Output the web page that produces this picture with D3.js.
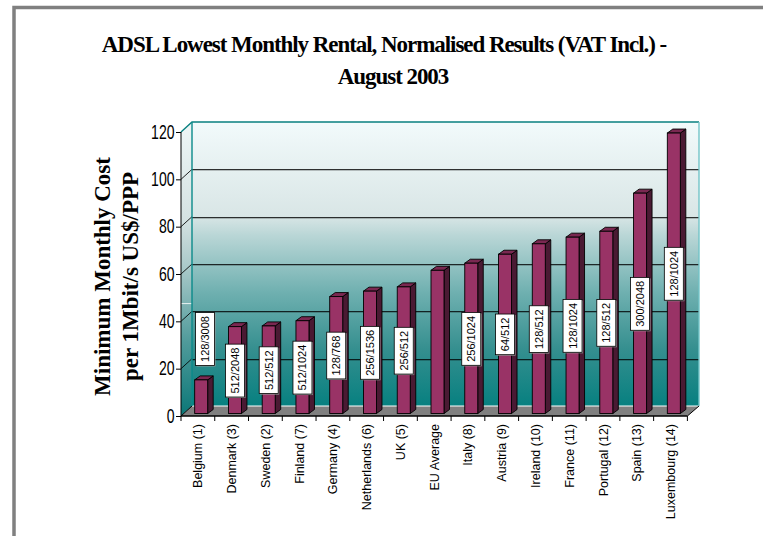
<!DOCTYPE html>
<html><head><meta charset="utf-8">
<script src="https://cdn.jsdelivr.net/npm/d3@7"></script>
<style>html,body{margin:0;padding:0;background:#fff;overflow:hidden}svg{display:block}</style>
</head><body><svg id="c" width="763" height="536"></svg>
<script>
const titleLines = ["ADSL Lowest Monthly Rental, Normalised Results (VAT Incl.) -", "August 2003"];
const yTitleLines = ["Minimum Monthly Cost", "per 1Mbit/s US$/PPP"];
const categories = ["Belgium (1)","Denmark (3)","Sweden (2)","Finland (7)","Germany (4)","Netherlands (6)","UK (5)","EU Average","Italy (8)","Austria (9)","Ireland (10)","France (11)","Portugal (12)","Spain (13)","Luxembourg (14)"];
const values = [14.2,36.7,37,39.2,49.4,51.7,53.5,60.5,63.5,67.3,71.7,74.5,77,93.1,118.5];
const speeds = ["128/3008","512/2048","512/512","512/1024","128/768","256/1536","256/512","","256/1024","64/512","128/512","128/1024","128/512","300/2048","128/1024"];
const yTicks = [0,20,40,60,80,100,120];

const svg = d3.select("#c");
const SANS = "'Liberation Sans', Arial, sans-serif", SERIF = "'Liberation Serif', 'Times New Roman', serif";
const depthX = 11, depthY = 10, barDX = 5.5, barDY = 4, barW = 13;
const y = d3.scaleLinear().domain([0,120]).range([416,132]);
const x = d3.scaleBand().domain(categories).range([181,687.4]).paddingInner(0).paddingOuter(0);
const barY = v => y(v) - 2.5;

const defs = svg.append("defs");
function grad(id, stops){
  const g = defs.append("linearGradient").attr("id",id).attr("x1",0).attr("x2",0).attr("y1",0).attr("y2",1);
  stops.forEach(([o,c])=>g.append("stop").attr("offset",o).attr("stop-color",c));
}
grad("wall",[[0,"#f2fafb"],[.33,"#d9e6e6"],[.4,"#b9d6d6"],[.6,"#6fb0b0"],[.8,"#358f8f"],[1,"#078080"]]);
grad("side",[[0,"#eef6f6"],[.33,"#d5e2e2"],[.5,"#a8c8c8"],[.75,"#4f9a9a"],[1,"#0b7777"]]);

// page frame
svg.append("path").attr("d","M14,536V7.5H763").attr("fill","none").attr("stroke","#808080").attr("stroke-width",3.5);

// title
svg.append("g").selectAll("text").data(titleLines).join("text")
  .attr("x",(d,i)=>i?393:384).attr("y",(d,i)=>52+i*32).attr("text-anchor","middle")
  .attr("font-family",SERIF).attr("font-weight","bold").attr("font-size",23).attr("letter-spacing",-1.05)
  .text(d=>d);
// y title
svg.append("g").selectAll("text").data(yTitleLines).join("text")
  .attr("transform",(d,i)=>`translate(${110+i*28},276.5) rotate(-90)`).attr("text-anchor","middle")
  .attr("font-family",SERIF).attr("font-weight","bold").attr("font-size",23)
  .text(d=>d);

const x0 = x.range()[0], x1 = x.range()[1];
const backL = x0+depthX, backR = x1+depthX+0.6, wallTop = y(120)-depthY, wallBot = y(0)-depthY;

// back wall + side wall + floor
svg.append("rect").attr("x",backL).attr("y",wallTop).attr("width",backR-backL).attr("height",wallBot-wallTop).attr("fill","url(#wall)");
svg.append("path").attr("d",`M${x0},${y(120)}L${backL},${wallTop}V${wallBot}L${x0},${y(0)}Z`).attr("fill","url(#side)");
svg.append("path").attr("d",`M${x0},${y(0)}L${backL},${wallBot}H${backR}L${x1},${y(0)}Z`).attr("fill","#808080");
svg.append("line").attr("x1",backL).attr("x2",backR).attr("y1",wallBot).attr("y2",wallBot).attr("stroke","#fff").attr("stroke-width",1);
svg.append("line").attr("x1",x0).attr("x2",backL).attr("y1",y(47.5)).attr("y2",y(47.5)).attr("stroke","#e8f2f2").attr("stroke-width",1);

// gridlines
const grid = svg.append("g");
yTicks.filter(t=>t>0&&t<120).forEach(t=>{
  const yy = Math.round(y(t)-depthY)+0.5;
  grid.append("line").attr("x1",backL).attr("x2",backR).attr("y1",yy+1).attr("y2",yy+1).attr("stroke","#000").attr("stroke-opacity",.22);
  grid.append("line").attr("x1",backL).attr("x2",backR).attr("y1",yy).attr("y2",yy).attr("stroke","#000").attr("stroke-opacity",.8);
  grid.append("line").attr("x1",x0).attr("x2",backL).attr("y1",y(t)).attr("y2",y(t)-depthY).attr("stroke","#000").attr("stroke-opacity",.85);
});
// wall edges
svg.append("path").attr("d",`M${x0},${y(120)}L${backL},${wallTop}H${backR}`).attr("fill","none").attr("stroke","#0a8080").attr("stroke-width",1.4);
svg.append("line").attr("x1",backL).attr("x2",backL).attr("y1",wallTop).attr("y2",wallBot).attr("stroke","#0a8a8a").attr("stroke-width",1.4);
svg.append("line").attr("x1",backR).attr("x2",backR).attr("y1",wallTop).attr("y2",wallBot).attr("stroke","#72c4c8").attr("stroke-width",1.4);
svg.append("line").attr("x1",x1).attr("x2",backR).attr("y1",y(0)).attr("y2",wallBot).attr("stroke","#000");
svg.append("line").attr("x1",x0).attr("x2",backL).attr("y1",y(0)).attr("y2",wallBot).attr("stroke","#000");

// bars
const offset = (x.step()-barW)/2 + 3.3;
const rows = categories.map((c,i)=>({c,v:values[i],s:speeds[i],i}));
const bars = svg.append("g").selectAll("g").data(rows).join("g");
const bl = d=>x(d.c)+offset, bb = y(0)-2.5;
bars.append("path").attr("d",d=>`M${bl(d)+barW},${bb}l${barDX},${-barDY}V${barY(d.v)-barDY}l${-barDX},${barDY}Z`)
  .attr("fill","#4a1a33").attr("stroke","#000").attr("stroke-width",.9);
bars.append("path").attr("d",d=>`M${bl(d)},${barY(d.v)}l${barDX},${-barDY}h${barW}l${-barDX},${barDY}Z`)
  .attr("fill","#7a2851").attr("stroke","#000").attr("stroke-width",.9);
bars.append("rect").attr("x",bl).attr("y",d=>barY(d.v)).attr("width",barW).attr("height",d=>bb-barY(d.v))
  .attr("fill","#993366").attr("stroke","#000").attr("stroke-width",.9);

// value labels
const tags = svg.append("g").selectAll("g").data(rows.filter(d=>d.s!=="")).join("g").attr("transform",d=>{
  const first = d.i===0;
  const cx = bl(d)+barW/2 + (first?3.8:0), cy = (barY(d.v)+bb)/2 + (first?-57.7:0.5);
  return `translate(${cx},${cy})`;
});
const tagText = tags.append("text").attr("transform","rotate(-90)").attr("text-anchor","middle").attr("dy","0.36em")
  .attr("font-family",SANS).attr("font-size",11).text(d=>d.s);
tagText.each(function(){
  const L = this.getComputedTextLength()+7, p = d3.select(this.parentNode);
  p.insert("rect","text").attr("x",-9.5+1).attr("y",-L/2+1).attr("width",19).attr("height",L).attr("fill","#999");
  p.insert("rect","text").attr("x",-9.5).attr("y",-L/2).attr("width",19).attr("height",L).attr("fill","#fff").attr("stroke","#000").attr("stroke-width",.8);
});

// y axis
const yAxis = svg.append("g").attr("transform",`translate(${x0},0)`)
  .call(d3.axisLeft(y).tickValues(yTicks).tickSize(5).tickPadding(1));
yAxis.selectAll("path").attr("stroke","#000").attr("stroke-width",1).attr("d",`M0,${y(120)}V${y(0)}`);
yAxis.selectAll("line").attr("stroke","#000");
yAxis.selectAll("text").attr("font-family",SANS).attr("font-size",19.5).attr("fill","#000")
  .attr("x",0).attr("text-anchor","end").attr("transform","translate(-6.5,0) scale(.72,1)");

// x axis
const xAxis = svg.append("g").attr("transform",`translate(0,${y(0)})`)
  .call(d3.axisBottom(x).tickSize(0));
xAxis.select("path").attr("stroke","#000").attr("stroke-width",1.4).attr("d",`M${x0},0H${x1}`);
xAxis.selectAll("text").attr("font-family",SANS).attr("font-size",12.5).attr("fill","#000")
  .attr("text-anchor","end").attr("transform","translate(0,8) rotate(-90)").attr("x",0).attr("y",0).attr("dy","0.36em");
d3.range(categories.length+1).forEach(i=>{
  xAxis.append("line").attr("x1",x0+i*x.step()).attr("x2",x0+i*x.step()).attr("y1",0).attr("y2",5).attr("stroke","#000");
});
</script></body></html>
